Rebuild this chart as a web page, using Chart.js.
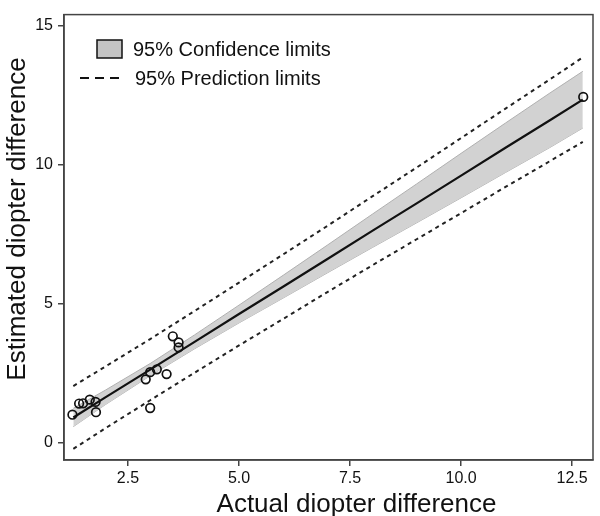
<!DOCTYPE html>
<html>
<head>
<meta charset="utf-8">
<script src="https://cdn.jsdelivr.net/npm/chart.js@4/dist/chart.umd.min.js"></script>
<style>
  html, body { margin: 0; padding: 0; background: #fff; }
  canvas { display: block; }
</style>
</head>
<body>
<canvas id="myChart" width="600" height="516"></canvas>
<script>
// observed points
const actualX    = [1.25, 1.40, 1.49, 1.64, 1.77, 1.78, 2.90, 3.00, 3.15, 3.00, 3.37, 3.51, 3.64, 3.64, 12.75]
const estimatedY = [1.02, 1.42, 1.43, 1.56, 1.48, 1.11, 2.29, 2.55, 2.65, 1.26, 2.48, 3.84, 3.62, 3.44, 12.45]

// fitted line and limits
const fitX    = [1.27, 2, 3, 4, 5, 6, 7, 8, 9, 10, 11, 12, 12.74]
const fitY    = [0.92, 1.65, 2.64, 3.64, 4.64, 5.63, 6.63, 7.63, 8.62, 9.62, 10.62, 11.61, 12.35]
const ciUpper = [1.25, 1.91, 2.86, 3.89, 4.96, 6.04, 7.13, 8.23, 9.32, 10.42, 11.51, 12.59, 13.37]
const ciLower = [0.59, 1.39, 2.42, 3.39, 4.32, 5.22, 6.13, 7.03, 7.92, 8.82, 9.73, 10.63, 11.33]
const piUpper = [2.05, 2.76, 3.74, 4.75, 5.77, 6.79, 7.82, 8.87, 9.91, 10.97, 12.03, 13.08, 13.87]
const piLower = [-0.21, 0.54, 1.54, 2.53, 3.51, 4.47, 5.44, 6.39, 7.33, 8.27, 9.21, 10.14, 10.83]

const xTicks = [2.5, 5, 7.5, 10, 12.5]
const xTickLabels = ['2.5', '5.0', '7.5', '10.0', '12.5']
const yTicks = [0, 5, 10, 15]
const yTickLabels = ['0', '5', '10', '15']

const legendLabels = ['95% Confidence limits', '95% Prediction limits']
const xTitle = 'Actual diopter difference'
const yTitle = 'Estimated diopter difference'

const FONT = '"Liberation Sans", Arial, sans-serif'

function pts(xs, ys) {
    return xs.map((x, i) => ({x: x, y: ys[i]}))
}

// box, axis titles and legend
const extras = {
    id: 'extras',
    afterDraw(chart) {
        const ctx = chart.ctx
        const a = chart.chartArea
        ctx.save()
        ctx.strokeStyle = '#444'
        ctx.lineWidth = 1.5
        ctx.strokeRect(a.left, a.top, a.right - a.left, a.bottom - a.top)

        ctx.fillStyle = '#111'
        ctx.font = '26px ' + FONT
        ctx.textAlign = 'center'
        ctx.textBaseline = 'alphabetic'
        ctx.fillText(xTitle, (a.left + a.right) / 2 + 28, 512)

        ctx.save()
        ctx.translate(25, 219)
        ctx.rotate(-Math.PI / 2)
        ctx.fillText(yTitle, 0, 0)
        ctx.restore()

        // legend
        ctx.fillStyle = '#c4c4c4'
        ctx.fillRect(97, 40, 25, 18)
        ctx.strokeStyle = '#111'
        ctx.lineWidth = 1.5
        ctx.strokeRect(97, 40, 25, 18)

        ctx.beginPath()
        ctx.setLineDash([9, 6])
        ctx.lineWidth = 2
        ctx.moveTo(80, 78)
        ctx.lineTo(124, 78)
        ctx.stroke()
        ctx.setLineDash([])

        ctx.fillStyle = '#111'
        ctx.font = '20px ' + FONT
        ctx.textAlign = 'left'
        ctx.textBaseline = 'middle'
        ctx.fillText(legendLabels[0], 133, 50)
        ctx.fillText(legendLabels[1], 135, 79)
        ctx.restore()
    }
}

const config = {
    type: 'line',
    data: {
        datasets: [
            {
                label: 'Observed',
                data: pts(actualX, estimatedY),
                showLine: false,
                pointRadius: 4.3,
                pointBorderWidth: 1.7,
                pointBorderColor: '#111',
                pointBackgroundColor: 'rgba(255,255,255,0)',
                order: 0
            },
            {
                label: 'Fit',
                data: pts(fitX, fitY),
                borderColor: '#111',
                borderWidth: 2.2,
                pointRadius: 0,
                fill: false,
                order: 1
            },
            {
                label: legendLabels[1],
                data: pts(fitX, piUpper),
                borderColor: '#222',
                borderWidth: 2,
                borderDash: [4, 4],
                pointRadius: 0,
                fill: false,
                order: 2
            },
            {
                label: legendLabels[1] + ' lower',
                data: pts(fitX, piLower),
                borderColor: '#222',
                borderWidth: 2,
                borderDash: [4, 4],
                pointRadius: 0,
                fill: false,
                order: 2
            },
            {
                label: legendLabels[0],
                data: pts(fitX, ciUpper),
                borderColor: '#b0b0b0',
                borderWidth: 1,
                backgroundColor: '#d2d2d2',
                pointRadius: 0,
                fill: '+1',
                order: 3
            },
            {
                label: legendLabels[0] + ' lower',
                data: pts(fitX, ciLower),
                borderColor: '#b0b0b0',
                borderWidth: 1,
                pointRadius: 0,
                fill: false,
                order: 3
            }
        ]
    },
    options: {
        responsive: false,
        animation: false,
        devicePixelRatio: 1,
        layout: {padding: {top: 8, right: 7, left: 0, bottom: 0}},
        plugins: {
            legend: {display: false},
            tooltip: {enabled: false}
        },
        scales: {
            x: {
                type: 'linear',
                min: 1.06,
                max: 12.97,
                afterBuildTicks: function(scale) {
                    scale.ticks = xTicks.map(v => ({value: v}))
                },
                afterFit: function(scale) {
                    scale.height = 56
                },
                ticks: {
                    callback: (v, i) => xTickLabels[i],
                    font: {size: 16, family: FONT},
                    color: '#111',
                    padding: 3,
                    maxRotation: 0,
                    autoSkip: false
                },
                grid: {drawOnChartArea: false, tickLength: 6, color: '#444', lineWidth: 1.5},
                border: {color: '#444', width: 1.5}
            },
            y: {
                type: 'linear',
                min: -0.61,
                max: 15.41,
                afterBuildTicks: function(scale) {
                    scale.ticks = yTicks.map(v => ({value: v}))
                },
                afterFit: function(scale) {
                    scale.width = 64
                },
                ticks: {
                    callback: (v, i) => yTickLabels[i],
                    font: {size: 16, family: FONT},
                    color: '#111',
                    padding: 5,
                    autoSkip: false
                },
                grid: {drawOnChartArea: false, tickLength: 6, color: '#444', lineWidth: 1.5},
                border: {color: '#444', width: 1.5}
            }
        }
    },
    plugins: [extras]
}

new Chart(document.getElementById('myChart'), config)
</script>
</body>
</html>
